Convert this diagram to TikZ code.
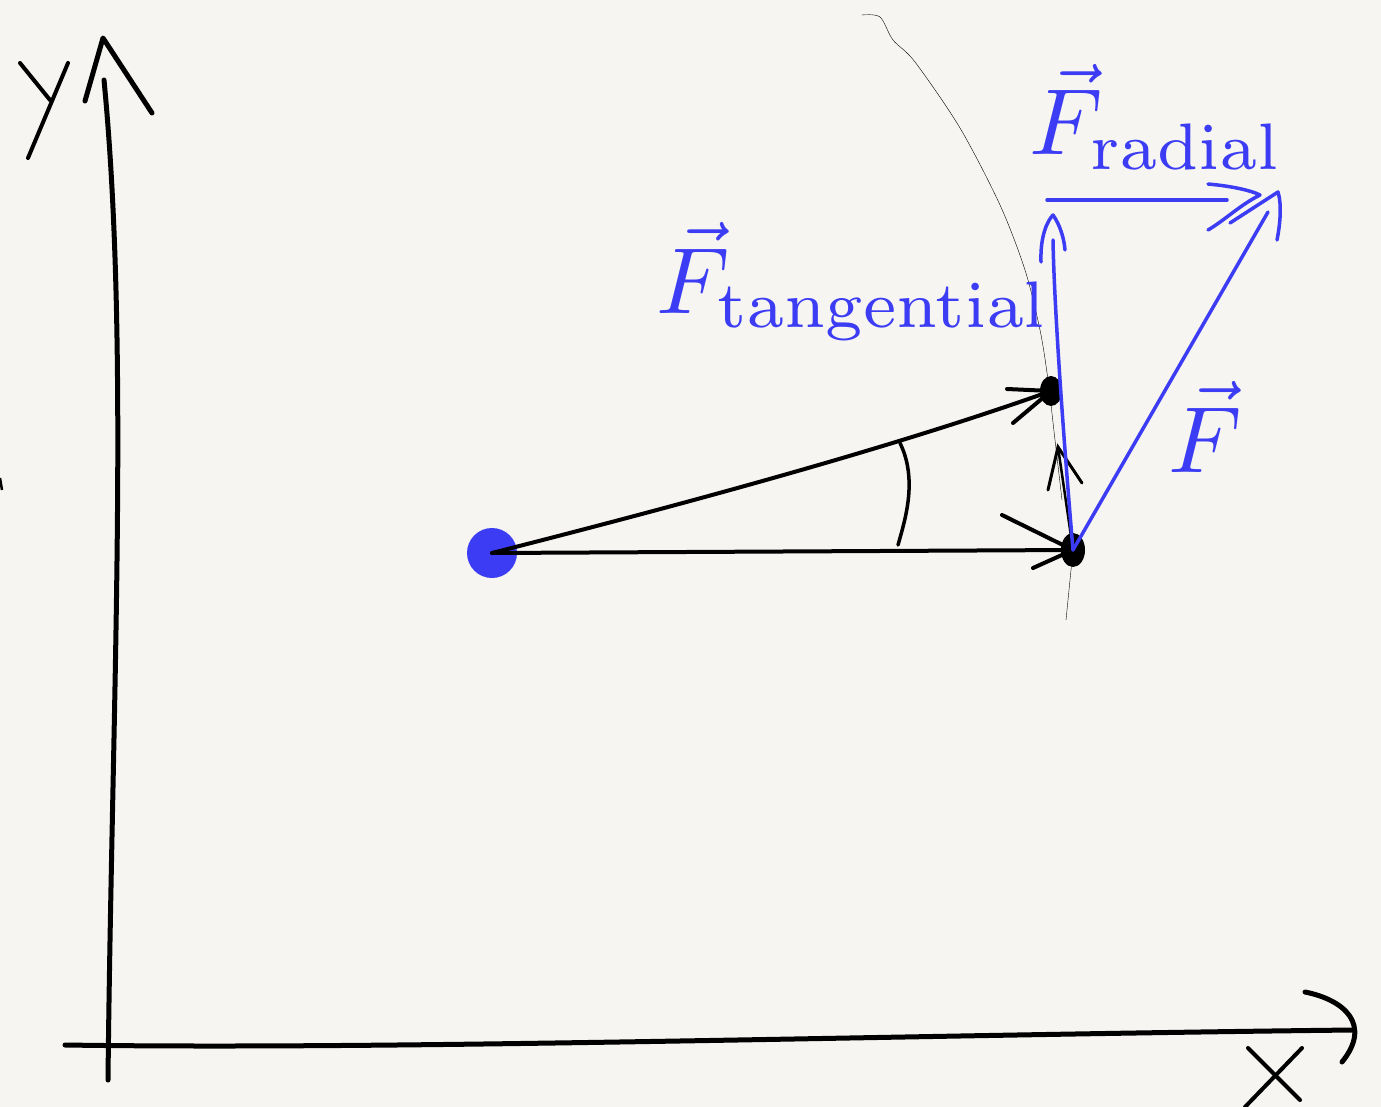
\documentclass[tikz,border=0pt]{standalone}
\usepackage{amsmath}
\usetikzlibrary{shapes.geometric}
\definecolor{bg}{RGB}{246,245,241}
\definecolor{pen}{RGB}{60,60,245}
\definecolor{thin}{RGB}{70,70,70}
\tikzset{
  axis/.style={line width=5pt, line cap=round, line join=round, black},
  vecline/.style={line width=4pt, line cap=round, line join=round, black},
  bluevec/.style={line width=3.5pt, line cap=round, line join=round, pen},
  guide/.style={line width=1.8pt, line cap=round, thin},
  dotnode/.style={ellipse, fill=black, inner sep=0pt, minimum width=22pt, minimum height=30pt},
  lbl/.style={text=pen, inner sep=0pt, anchor=base west, scale=9.4, transform shape}
}
\begin{document}
\begin{tikzpicture}[x=1pt,y=-1pt]
\fill[bg] (0,0) rectangle (1381,1107);
\useasboundingbox (0,0) rectangle (1381,1107);

% named points
\node[circle, fill=pen, inner sep=0pt, minimum size=50pt] (src) at (492,553) {};
\node[dotnode] (p1) at (1051,391) {};
\node[dotnode, minimum width=24pt, minimum height=34pt] (p2) at (1073,550) {};
\coordinate (ytop) at (104,80);
\coordinate (ybot) at (108,1080);
\coordinate (xl) at (65,1045);
\coordinate (xr) at (1353,1030);
\coordinate (ttip) at (1053,215);
\coordinate (rstart) at (1047,200);
\coordinate (rtip) at (1260,195);
\coordinate (ftip) at (1278,192);
\coordinate (btip) at (1058,447);

% guide arc (thin)
\draw[guide] plot[smooth] coordinates {(862,15) (880,17) (893,40) (915,62) (960,128) (1000,205) (1025,270) (1040,330) (1048,380) (1055,440) (1062,500)};
\draw[guide] (p2.center) -- (1066,620);

% axes
\draw[axis] (ybot) .. controls (112,700) and (130,350) .. (ytop);
\draw[axis] (85,101) -- (103,38) -- (152,113);
\draw[axis] (xl) .. controls (400,1050) and (900,1035) .. (xr);
\draw[axis] (1305,992) .. controls (1345,1000) and (1372,1025) .. (1342,1062);
% axis letters
\draw[line width=4pt, line cap=round, black] (20,63) -- (50,100);
\draw[line width=4pt, line cap=round, black] (68,63) -- (28,158);
\draw[line width=4pt, line cap=round, black] (1248,1048) -- (1300,1100);
\draw[line width=4pt, line cap=round, black] (1302,1048) -- (1245,1107);
% small mark at left edge
\draw[line width=2.5pt, black] (0,478) -- (2,490);

% black position vectors
\draw[vecline] (src.center) .. controls (700,500) and (900,445) .. (p1.center);
\draw[vecline] (1007,389) -- (p1.center) -- (1013,423);
\draw[vecline] (src.center) -- (p2.center);
\draw[vecline] (1002,515) -- (p2.center) -- (1033,568);
% black small tangential vector
\draw[line width=2.5pt, black] (p2.center) -- (btip);
\draw[line width=3pt, line cap=round, black] (1048,490) -- (btip) -- (1082,483);

% angle arc
\draw[line width=3.5pt, line cap=round, black] (900,443) .. controls (918,480) and (905,520) .. (898,545);

% blue vectors
\draw[bluevec] (p2.center) .. controls (1062,420) and (1054,300) .. (1053,240);
\draw[bluevec] (1041,262) .. controls (1040,235) and (1048,220) .. (ttip) .. controls (1060,225) and (1064,238) .. (1065,250);
\draw[bluevec] (rstart) -- (1227,200);
\draw[bluevec] (1208,184) .. controls (1230,186) and (1250,190) .. (rtip) .. controls (1240,205) and (1225,220) .. (1208,230);
\draw[bluevec] (p2.center) -- (1268,212);
\draw[bluevec] (1230,223) -- (ftip) .. controls (1282,205) and (1280,225) .. (1277,240);

% labels
\node[lbl] (lrad) at (1028,155) {$\vec{F}_{\mathrm{radial}}$};
\node[lbl] (ltan) at (655,313) {$\vec{F}_{\mathrm{tangential}}$};
\node[lbl] (lf) at (1167,472) {$\vec{F}$};
\end{tikzpicture}
\end{document}
